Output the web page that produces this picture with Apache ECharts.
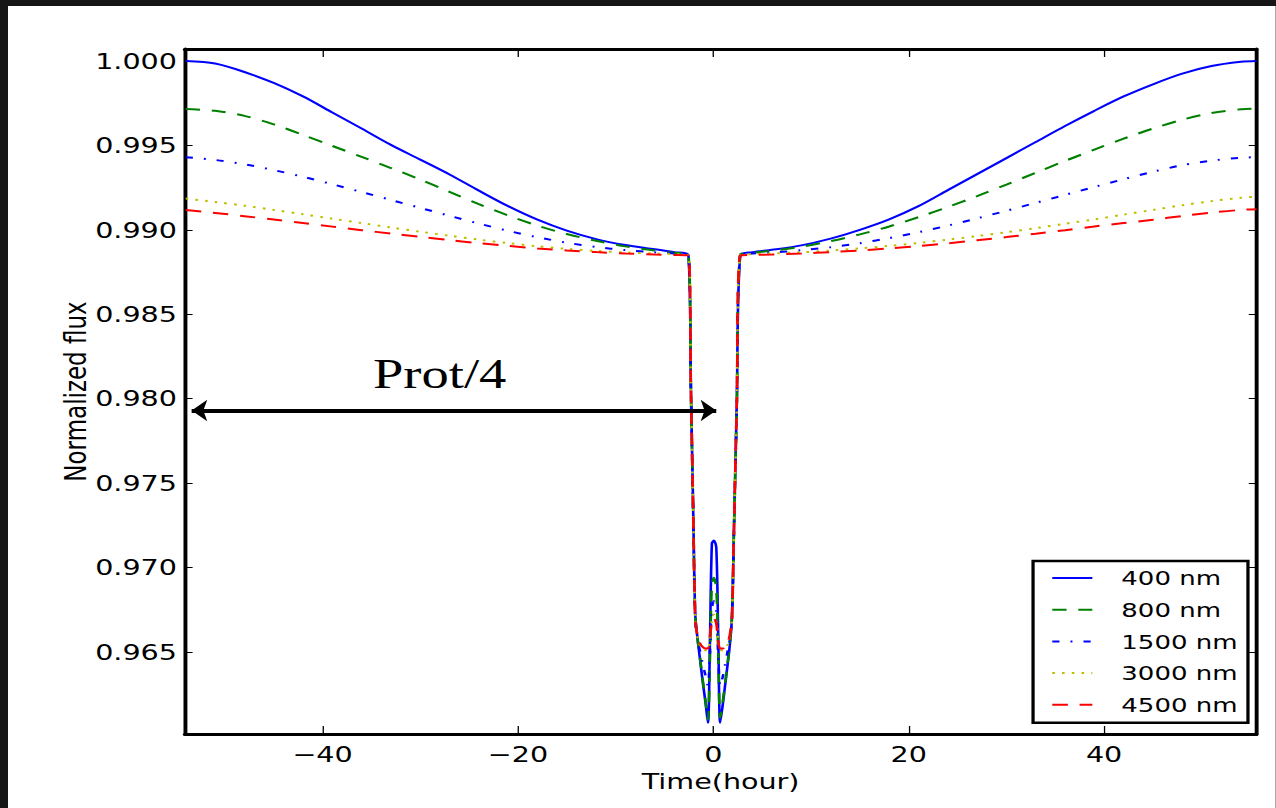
<!DOCTYPE html>
<html>
<head>
<meta charset="utf-8">
<title>Normalized flux vs time</title>
<script src="https://cdn.jsdelivr.net/npm/echarts@6/dist/echarts.min.js"></script>
<style>
  html, body {
    margin: 0;
    padding: 0;
    width: 1276px;
    height: 808px;
    overflow: hidden;
    background: #161616;
  }

  /* the original figure is a matplotlib plot stretched sideways, so the chart is drawn narrow and widened */
  #chart {
    position: absolute;
    left: 8px;
    top: 6px;
    width: 975px;
    height: 802px;
    background: #ffffff;
    transform: scaleX(1.3);
    transform-origin: 0 0;
  }
</style>
</head>
<body>
<div id="chart"></div>
<script>
// time axis (hours), shared by all curves
const hours = [
  -54, -51, -48, -45, -42, -39, -36, -33, -30, -27, -24, -21, -18, -15, -12, -9, -6, -4,
  -2.55, -2.3, -2.05, -1.85, -1.6, -1.35, -1.1, -0.8, -0.55, -0.35, -0.15, 0.05, 0.3, 0.5, 0.7, 0.95, 1.2, 1.45, 1.65, 1.9, 2.1, 2.4, 2.75,
  4, 6, 9, 12, 15, 18, 21, 24, 27, 30, 33, 36, 39, 42, 45, 48, 51, 54, 55.6
];

const flux400 = [
  1.00000, 0.99985, 0.99935, 0.99870, 0.99790, 0.99695, 0.99600, 0.99503, 0.99416, 0.99328, 0.99232, 0.99140, 0.99060, 0.98995, 0.98945, 0.98910, 0.98885, 0.98868,
  0.98850, 0.9808, 0.9730, 0.9672, 0.9657, 0.9645, 0.9633, 0.9620, 0.9608, 0.9655, 0.9714, 0.9716, 0.9712, 0.9660, 0.9608, 0.9618, 0.9630, 0.9642, 0.9652, 0.9670, 0.9720, 0.9797, 0.98850,
  0.98868, 0.98882, 0.98908, 0.98948, 0.99000, 0.99062, 0.99140, 0.99235, 0.99330, 0.99425, 0.99520, 0.99615, 0.99705, 0.99790, 0.99862, 0.99925, 0.99970, 0.99995, 1.00000
];

const flux800 = [
  0.99716, 0.99705, 0.99675, 0.99625, 0.99562, 0.99497, 0.99432, 0.99366, 0.99298, 0.99225, 0.99152, 0.99085, 0.99025, 0.98975, 0.98935, 0.98902, 0.98878, 0.98864,
  0.98852, 0.9806, 0.9728, 0.9671, 0.9657, 0.9646, 0.9634, 0.9621, 0.9610, 0.9645, 0.9690, 0.9694, 0.9688, 0.9650, 0.9611, 0.9620, 0.9631, 0.9643, 0.9653, 0.9670, 0.9718, 0.9795, 0.98852,
  0.98864, 0.98876, 0.98900, 0.98933, 0.98973, 0.99020, 0.99075, 0.99135, 0.99200, 0.99268, 0.99338, 0.99408, 0.99475, 0.99540, 0.99600, 0.99652, 0.99692, 0.99714, 0.99718
];

const flux1500 = [
  0.99430, 0.99414, 0.99388, 0.99354, 0.99314, 0.99270, 0.99224, 0.99177, 0.99130, 0.99083, 0.99037, 0.98994, 0.98956, 0.98924, 0.98898, 0.98880, 0.98867, 0.98860,
  0.98850, 0.9807, 0.9729, 0.9669, 0.9657, 0.9650, 0.9643, 0.9636, 0.9630, 0.9650, 0.9676, 0.9680, 0.9675, 0.9648, 0.9630, 0.9635, 0.9642, 0.9650, 0.9656, 0.9669, 0.9719, 0.9796, 0.98850,
  0.98860, 0.98866, 0.98879, 0.98897, 0.98921, 0.98951, 0.98986, 0.99025, 0.99068, 0.99113, 0.99160, 0.99207, 0.99254, 0.99300, 0.99344, 0.99383, 0.99410, 0.99427, 0.99430
];

const flux3000 = [
  0.99185, 0.99165, 0.99143, 0.99118, 0.99092, 0.99066, 0.99040, 0.99014, 0.98989, 0.98965, 0.98942, 0.98921, 0.98903, 0.98887, 0.98875, 0.98866, 0.98860, 0.98856,
  0.98850, 0.9807, 0.9729, 0.9668, 0.9658, 0.9654, 0.9652, 0.9651, 0.9651, 0.9658, 0.9669, 0.9672, 0.9668, 0.9656, 0.9651, 0.9651, 0.9652, 0.9654, 0.9658, 0.9668, 0.9719, 0.9796, 0.98850,
  0.98856, 0.98860, 0.98867, 0.98877, 0.98890, 0.98905, 0.98922, 0.98942, 0.98963, 0.98986, 0.99010, 0.99036, 0.99062, 0.99090, 0.99118, 0.99146, 0.99170, 0.99190, 0.99197
];

const flux4500 = [
  0.99118, 0.99100, 0.99081, 0.99061, 0.99040, 0.99019, 0.98998, 0.98978, 0.98958, 0.98939, 0.98921, 0.98905, 0.98890, 0.98878, 0.98868, 0.98860, 0.98854, 0.98851,
  0.98848, 0.9808, 0.9730, 0.9669, 0.9659, 0.9655, 0.9653, 0.9652, 0.9652, 0.9659, 0.9668, 0.9670, 0.9667, 0.9656, 0.9652, 0.9652, 0.9653, 0.9655, 0.9659, 0.9669, 0.9720, 0.9797, 0.98848,
  0.98851, 0.98854, 0.98860, 0.98868, 0.98878, 0.98890, 0.98904, 0.98920, 0.98938, 0.98957, 0.98977, 0.98998, 0.99020, 0.99040, 0.99060, 0.99082, 0.99102, 0.99118, 0.99122
];

const seriesNames = ['400 nm', '800 nm', '1500 nm', '3000 nm', '4500 nm'];
const xTicks = [-40, -20, 0, 20, 40];
const yTicks = [0.965, 0.970, 0.975, 0.980, 0.985, 0.990, 0.995, 1.000];

// Prot/4 annotation arrow
const arrowSpan = [-53.4, 0.3];
const arrowLevel = 0.9793;

const FONT = 'DejaVu Sans';

const curves = [
  { values: flux400, color: '#0000ff', dash: 'solid' },
  { values: flux800, color: '#008000', dash: [11, 9] },
  { values: flux1500, color: '#0000ff', dash: [5.5, 8.5, 1.5, 8.5] },
  { values: flux3000, color: '#bfbf00', dash: [2, 5.5] },
  { values: flux4500, color: '#ff0000', dash: [12, 9] }
];

function pairs(values) {
  return hours.map((h, i) => [h, values[i]]);
}

function xLabel(v) {
  return v < 0 ? '\u2212' + Math.abs(v) : String(v);
}

const frameLine = { show: true, onZero: false, lineStyle: { color: '#000', width: 3 } };

function ticks(values, len) {
  return { show: true, inside: true, length: len, customValues: values, lineStyle: { color: '#000', width: 1 } };
}

const chart = echarts.init(document.getElementById('chart'), null, { renderer: 'svg' });

const series = curves.map((c, i) => ({
  name: seriesNames[i],
  type: 'line',
  data: pairs(c.values),
  symbol: 'none',
  smooth: 0.3,
  animation: false,
  itemStyle: { color: c.color },
  lineStyle: { color: c.color, width: 2, type: c.dash }
}));

series.push({
  name: 'Prot/4',
  type: 'line',
  data: [],
  animation: false,
  markLine: {
    silent: true,
    animation: false,
    symbol: ['arrow', 'arrow'],
    symbolSize: [16, 12],
    lineStyle: { color: '#000', width: 4, type: 'solid' },
    label: {
      show: true,
      position: 'middle',
      formatter: 'Prot/4',
      fontFamily: 'Liberation Serif',
      fontSize: 42,
      color: '#000',
      distance: 15,
      padding: [0, 22, 0, 0]
    },
    data: [[
      { coord: [arrowSpan[0], arrowLevel] },
      { coord: [arrowSpan[1], arrowLevel] }
    ]]
  }
});

chart.setOption({
  backgroundColor: '#ffffff',
  animation: false,
  grid: {
    left: 136,
    right: 14.6,
    top: 43,
    bottom: 74,
    outerBoundsMode: 'none'
  },
  legend: {
    data: seriesNames,
    orient: 'vertical',
    left: 788.5,
    top: 555,
    padding: [6, 8, 7, 13.8],
    itemWidth: 30.8,
    itemHeight: 14,
    itemGap: 9.7,
    borderColor: '#000',
    borderWidth: 2.5,
    backgroundColor: '#ffffff',
    itemStyle: { opacity: 0 },
    textStyle: {
      fontFamily: FONT,
      fontSize: 20,
      color: '#000',
      lineHeight: 22,
      padding: [0, 0, 0, 17.3]
    }
  },
  xAxis: [
    {
      type: 'value',
      position: 'bottom',
      min: -54.1,
      max: 55.6,
      axisLine: frameLine,
      axisTick: ticks(xTicks, 8),
      axisLabel: {
        customValues: xTicks,
        formatter: xLabel,
        fontFamily: FONT,
        fontSize: 22,
        color: '#000',
        margin: 9
      },
      splitLine: { show: false },
      name: 'Time(hour)',
      nameLocation: 'middle',
      nameGap: 33,
      nameTextStyle: { fontFamily: FONT, fontSize: 22, color: '#000' }
    },
    {
      type: 'value',
      position: 'top',
      min: -54.1,
      max: 55.6,
      axisLine: frameLine,
      axisTick: ticks(xTicks, 8),
      axisLabel: { show: false },
      splitLine: { show: false }
    }
  ],
  yAxis: [
    {
      type: 'value',
      position: 'left',
      min: 0.96014,
      max: 1.00071,
      axisLine: frameLine,
      axisTick: ticks(yTicks, 6),
      axisLabel: {
        customValues: yTicks,
        formatter: v => v.toFixed(3),
        fontFamily: FONT,
        fontSize: 22,
        color: '#000',
        margin: 6
      },
      splitLine: { show: false },
      name: 'Normalized flux',
      nameLocation: 'middle',
      nameGap: 73,
      nameMoveOverlap: false,
      nameTextStyle: { fontFamily: FONT, fontSize: 23, color: '#000' }
    },
    {
      type: 'value',
      position: 'right',
      min: 0.96014,
      max: 1.00071,
      axisLine: frameLine,
      axisTick: ticks(yTicks, 6),
      axisLabel: { show: false },
      splitLine: { show: false }
    }
  ],
  series: series
});
</script>
</body>
</html>
